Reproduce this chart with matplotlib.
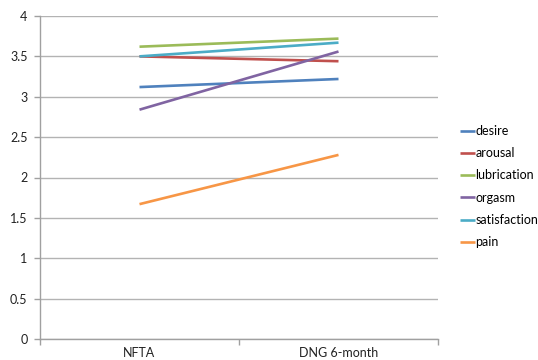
import matplotlib
matplotlib.use("Agg")
import matplotlib.pyplot as plt

categories = ["NFTA", "DNG 6-month"]
series_names = ["desire", "arousal", "lubrication", "orgasm", "satisfaction", "pain"]
desire = [3.12, 3.22]
arousal = [3.50, 3.44]
lubrication = [3.62, 3.72]
orgasm = [2.84, 3.56]
satisfaction = [3.50, 3.67]
pain = [1.67, 2.28]
colors = ["#4F81BD", "#C0504D", "#9BBB59", "#8064A2", "#4BACC6", "#F79646"]
yticks = [0, 0.5, 1, 1.5, 2, 2.5, 3, 3.5, 4]

plt.rcParams['font.family'] = ['Lato', 'DejaVu Sans']

fig = plt.figure(figsize=(5.38, 3.6), dpi=100)
ax = fig.add_axes([40/538, 1-339/360, (438-40)/538, (339-16)/360])

x = list(range(len(categories)))
for name, vals, c in zip(series_names, [desire, arousal, lubrication, orgasm, satisfaction, pain], colors):
    ax.plot(x, vals, color=c, lw=1.9, label=name, solid_capstyle='butt')

ax.set_xlim(-0.5, len(categories) - 0.5)
ax.set_ylim(0, 4)
ax.set_yticks(yticks)
ax.set_yticklabels([f"{v:g}" for v in yticks])
ax.yaxis.grid(True, color="#b3b3b3", lw=1)
ax.set_axisbelow(True)
ax.set_xticks(x)
ax.set_xticklabels(categories)
ax.set_xticks([i - 0.5 for i in range(len(categories) + 1)], minor=True)
ax.tick_params(axis='x', which='major', length=0, pad=6, labelsize=9, colors='#222222')
ax.tick_params(axis='x', which='minor', length=4, color='#a0a0a0', width=1, direction='out')
ax.tick_params(axis='y', length=4, color='#a0a0a0', width=1, labelsize=9, pad=5, labelcolor='#222222')
for s in ['top', 'right']:
    ax.spines[s].set_visible(False)
for s in ['left', 'bottom']:
    ax.spines[s].set_color('#a0a0a0')
    ax.spines[s].set_linewidth(1)

leg = ax.legend(loc='center left', bbox_to_anchor=((460 - 40)/398, 1 - (186.5 - 16)/323), frameon=False,
                fontsize=9, handlelength=1.2, handletextpad=0.05, labelspacing=0.82,
                borderaxespad=0, borderpad=0)
fig.savefig("out.png", dpi=100)
